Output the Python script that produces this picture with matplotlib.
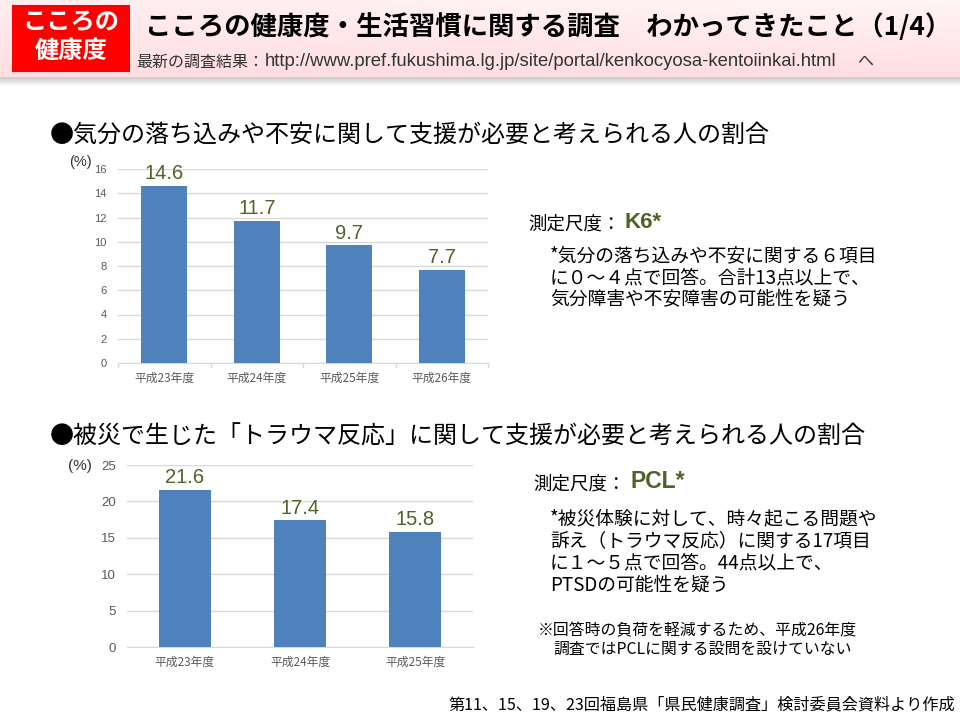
import matplotlib
matplotlib.use("Agg")
import matplotlib.pyplot as plt
import numpy as np
from matplotlib.patches import Rectangle

plt.rcParams['font.family'] = ['Noto Sans CJK JP', 'DejaVu Sans']
LAT = ['Liberation Sans', 'Noto Sans CJK JP', 'DejaVu Sans']

# ---- data ----
k6_categories = ["平成23年度", "平成24年度", "平成25年度", "平成26年度"]
k6_values = [14.6, 11.7, 9.7, 7.7]
k6_yticks = [0, 2, 4, 6, 8, 10, 12, 14, 16]

pcl_categories = ["平成23年度", "平成24年度", "平成25年度"]
pcl_values = [21.6, 17.4, 15.8]
pcl_yticks = [0, 5, 10, 15, 20, 25]

W, H = 960, 720
fig = plt.figure(figsize=(9.6, 7.2), dpi=100)
fig.patch.set_facecolor("white")

def add_ax(left, top, right, bottom):
    return fig.add_axes([left / W, 1 - bottom / H, (right - left) / W, (bottom - top) / H])

# ---- header background ----
bg = fig.add_axes([0, 0, 1, 1], zorder=-10)
bg.set_xlim(0, W); bg.set_ylim(H, 0); bg.axis("off")
gx = np.linspace(0, 1, 128)
gy = np.linspace(0, 1, 64)
top = np.array([1.0, 0.93, 0.94]); bot = np.array([1.0, 0.87, 0.88])
img = top[None, None, :] * (1 - gy[:, None, None]) + bot[None, None, :] * gy[:, None, None]
img = np.repeat(img, len(gx), axis=1)
img = img + (0.03 * gx)[None, :, None] * (1 - gy[:, None, None])
img = np.clip(img, 0, 1)
bg.imshow(img, extent=[0, W, 77, 0], aspect="auto", zorder=0)
for i in range(9):
    a = 0.4 * (1 - i / 9)
    bg.add_patch(Rectangle((0, 77 + i), W, 1, color=(0.5, 0.5, 0.5), alpha=a, lw=0, zorder=1))
bg.add_patch(Rectangle((12, 5), 118, 67, color="#FF0000", lw=0, zorder=2))
bg.text(71, 22, "こころの", color="white", fontsize=17.5, fontweight="bold", ha="center", va="center", zorder=3)
bg.text(71, 51, "健康度", color="white", fontsize=17.5, fontweight="bold", ha="center", va="center", zorder=3)
bg.text(145, 27, "こころの健康度・生活習慣に関する調査　わかってきたこと（1/4）",
        color="black", fontsize=19, fontweight="bold", ha="left", va="center", zorder=3)
bg.text(136, 62, "最新の調査結果：", color="#333333", fontsize=11.5, ha="left", va="center", zorder=3)
bg.text(265, 62, "http://www.pref.fukushima.lg.jp/site/portal/kenkocyosa-kentoiinkai.html",
        color="#333333", fontsize=13.3, ha="left", va="center", zorder=3, family=LAT)
bg.text(857, 61, "へ", color="#333333", fontsize=11.5, ha="left", va="center", zorder=3)

# ---- headings ----
bg.text(50, 135, "●気分の落ち込みや不安に関して支援が必要と考えられる人の割合",
        fontsize=17.3, ha="left", va="center", color="black")
bg.text(50, 437, "●被災で生じた「トラウマ反応」に関して支援が必要と考えられる人の割合",
        fontsize=17.3, ha="left", va="center", color="black")

green = "#4F6228"
bar_color = "#4F81BD"

def draw_chart(ax, cats, vals, yticks, width, ytick_fs, xtick_fs, label_fs):
    x = np.arange(len(cats))
    bars = ax.bar(x, vals, width=width, color=bar_color, zorder=3)
    ax.set_xlim(-0.5, len(cats) - 0.5)
    ax.set_ylim(yticks[0], yticks[-1])
    ax.set_yticks(yticks)
    ax.set_yticklabels([str(t) for t in yticks], family=LAT)
    ax.set_xticks(x)
    ax.set_xticklabels(cats, fontsize=xtick_fs, color="#595959")
    ax.tick_params(axis="y", length=0, labelsize=ytick_fs, labelcolor="#595959", pad=8)
    ax.tick_params(axis="x", length=0, pad=6)
    ax.grid(axis="y", color="#D9D9D9", lw=1, zorder=0)
    for s in ["left", "right", "top"]:
        ax.spines[s].set_visible(False)
    ax.spines["bottom"].set_color("#D9D9D9")
    ax.patch.set_alpha(0)
    for b, v in zip(bars, vals):
        ax.annotate(f"{v}", (b.get_x() + b.get_width() / 2, v), xytext=(0, 2),
                    textcoords="offset points", ha="center", va="bottom",
                    fontsize=label_fs, color=green, family=LAT)
    return ax

ax1 = add_ax(118, 169, 488, 363)
draw_chart(ax1, k6_categories, k6_values, k6_yticks, 0.5, 8, 8.5, 14.5)
for b in np.arange(-0.5, len(k6_categories), 1.0):
    ax1.plot([b, b], [0, -0.35], color="#D9D9D9", lw=1, clip_on=False)

ax2 = add_ax(127, 465, 473, 647)
draw_chart(ax2, pcl_categories, pcl_values, pcl_yticks, 0.45, 9.5, 8.5, 14.5)

bg.text(80, 162, "(%)", fontsize=10.5, ha="center", va="center", color="#333333", family=LAT)
bg.text(80, 466, "(%)", fontsize=11, ha="center", va="center", color="#333333", family=LAT)

# ---- right side texts ----
bg.text(528, 225, "測定尺度：", fontsize=13.3, ha="left", va="center", color="black")
bg.text(624, 222, "K6*", fontsize=16, fontweight="bold", ha="left", va="center", color=green,
        family=LAT)
k6_lines = ["*気分の落ち込みや不安に関する６項目",
            "に０～４点で回答。合計13点以上で、",
            "気分障害や不安障害の可能性を疑う"]
for i, t in enumerate(k6_lines):
    bg.text(550, 256 + 22 * i, t, fontsize=13.5, ha="left", va="center", color="black")

bg.text(533, 485, "測定尺度：", fontsize=13.3, ha="left", va="center", color="black")
bg.text(630, 482, "PCL*", fontsize=16.5, fontweight="bold", ha="left", va="center", color=green,
        family=LAT)
pcl_lines = ["*被災体験に対して、時々起こる問題や",
             "訴え（トラウマ反応）に関する17項目",
             "に１～５点で回答。44点以上で、",
             "PTSDの可能性を疑う"]
for i, t in enumerate(pcl_lines):
    bg.text(550, 519 + 22 * i, t, fontsize=13.5, ha="left", va="center", color="black")

bg.text(538, 631, "※回答時の負荷を軽減するため、平成26年度", fontsize=11.4, ha="left", va="center", color="black")
bg.text(553, 649, "調査ではPCLに関する設問を設けていない", fontsize=11.4, ha="left", va="center", color="black")

bg.text(955, 705, "第11、15、19、23回福島県「県民健康調査」検討委員会資料より作成",
        fontsize=11.6, ha="right", va="center", color="black")

fig.savefig("out.png", dpi=100)
